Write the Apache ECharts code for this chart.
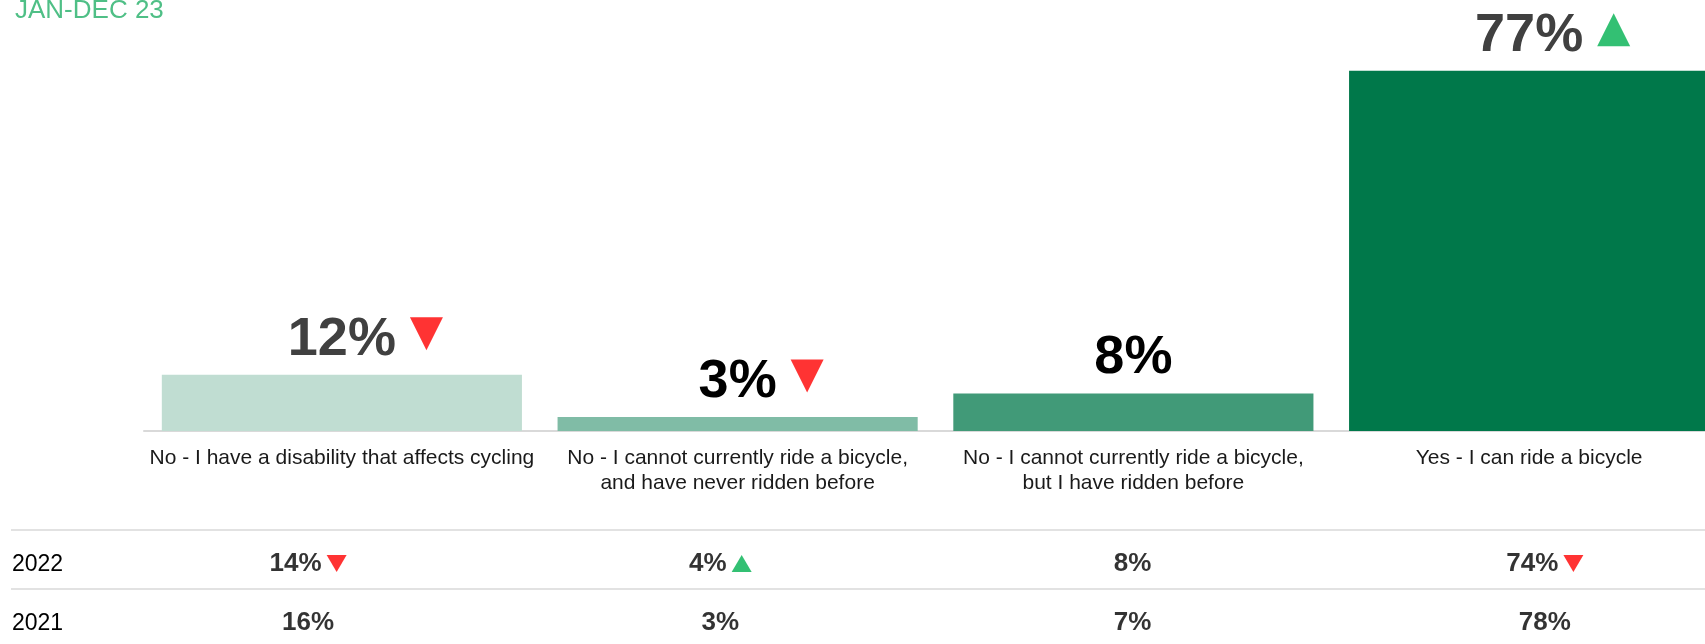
<!DOCTYPE html>
<html>
<head>
<meta charset="utf-8">
<title>Can you ride a bicycle</title>
<script src="https://cdn.jsdelivr.net/npm/echarts@6/dist/echarts.min.js"></script>
<style>
  html, body { margin: 0; padding: 0; background: #fff; }
  #chart { width: 1705px; height: 644px; }
</style>
</head>
<body>
<div id="chart"></div>
<script>
// chart data
const categories = [
    'No - I have a disability that affects cycling',
    'No - I cannot currently ride a bicycle,\nand have never ridden before',
    'No - I cannot currently ride a bicycle,\nbut I have ridden before',
    'Yes - I can ride a bicycle'
];
const values2023 = [12, 3, 8, 77];
const trend2023 = ['down', 'down', '', 'up'];

const tableYears = ['2022', '2021'];
const values2022 = [14, 4, 8, 74];
const trend2022 = ['down', 'up', '', 'down'];
const values2021 = [16, 3, 7, 78];

// styles
const barColors = ['#c0ddd2', '#80bca6', '#419a78', '#00784a'];
const labelColors = ['#404040', '#000000', '#000000', '#404040'];
const FONT = '"Liberation Sans", Arial, sans-serif';
const UP = '#00b050';
const DOWN = '#ff0000';

const measureCtx = document.createElement('canvas').getContext('2d');
function textWidth(str, size, weight) {
    measureCtx.font = `${weight || 'normal'} ${size}px ${FONT}`;
    return measureCtx.measureText(str).width;
}

// big arrows next to the 2023 labels
const bigArrows = [];
values2023.forEach((v, i) => {
    if (!trend2023[i]) return;
    const w = textWidth(v + '%', 54, 'bold');
    bigArrows.push({
        value: [i, v],
        symbolRotate: trend2023[i] === 'down' ? 180 : 0,
        symbolOffset: [w / 2 + 14 + 16.5, -41],
        itemStyle: { color: trend2023[i] === 'down' ? DOWN : UP }
    });
});

// table cells + small arrows
const cellData = [];
const cellArrows = [];
function addRow(year, vals, trends) {
    vals.forEach((v, i) => {
        const t = trends ? trends[i] : '';
        cellData.push({
            value: [i, year, v],
            label: { offset: [t ? -12.5 : 0, 4] }
        });
        if (t) {
            const w = textWidth(v + '%', 26, 'bold');
            cellArrows.push({
                value: [i, year],
                symbolRotate: t === 'down' ? 180 : 0,
                symbolOffset: [w / 2 - 12.5 + 5 + 10, 4],
                itemStyle: { color: t === 'down' ? DOWN : UP }
            });
        }
    });
}
addRow(tableYears[0], values2022, trend2022);
addRow(tableYears[1], values2021, null);

const chart = echarts.init(document.getElementById('chart'));

const option = {
    animation: false,
    title: {
        text: 'JAN-DEC 23',
        left: 15,
        top: -2,
        padding: 0,
        textStyle: { color: '#4fbf86', fontSize: 26, fontWeight: 'normal', fontFamily: FONT }
    },
    grid: [
        { left: 144, width: 1583, top: 10, height: 421, outerBoundsMode: 'none' },
        { left: 11, width: 1694, top: 530, height: 118, outerBoundsMode: 'none' },
        { left: 102, width: 1649, top: 530, height: 118, outerBoundsMode: 'none' }
    ],
    xAxis: [
        {
            type: 'category',
            gridIndex: 0,
            data: categories,
            axisLine: { lineStyle: { color: '#d9d9d9', width: 2 } },
            axisTick: { show: false },
            axisLabel: {
                interval: 0,
                margin: 15,
                fontSize: 21,
                lineHeight: 25,
                color: '#1a1a1a',
                fontFamily: FONT
            }
        },
        { type: 'value', gridIndex: 1, min: 0, max: 1, show: false },
        { type: 'category', gridIndex: 2, data: [0, 1, 2, 3], show: false }
    ],
    yAxis: [
        { type: 'value', gridIndex: 0, min: 0, max: 90, show: false },
        {
            type: 'category',
            gridIndex: 1,
            data: tableYears,
            inverse: true,
            axisLine: { show: false },
            axisTick: { show: false },
            splitLine: { show: true, interval: 0, lineStyle: { color: '#d9d9d9', width: 1.5 } },
            axisLabel: {
                inside: true,
                margin: 1,
                fontSize: 23,
                color: '#000',
                fontFamily: FONT,
                verticalAlign: 'top',
                lineHeight: 10
            }
        },
        { type: 'category', gridIndex: 2, data: tableYears, inverse: true, show: false }
    ],
    series: [
        {
            type: 'bar',
            xAxisIndex: 0,
            yAxisIndex: 0,
            barCategoryGap: '9%',
            data: values2023.map((v, i) => ({
                value: v,
                itemStyle: { color: barColors[i] },
                label: { color: labelColors[i] }
            })),
            label: {
                show: true,
                position: 'top',
                distance: 8,
                formatter: '{c}%',
                fontSize: 54,
                fontWeight: 'bold',
                fontFamily: FONT
            }
        },
        {
            type: 'scatter',
            xAxisIndex: 0,
            yAxisIndex: 0,
            symbol: 'triangle',
            symbolSize: [33, 33],
            silent: true,
            data: bigArrows
        },
        {
            type: 'scatter',
            xAxisIndex: 2,
            yAxisIndex: 2,
            symbolSize: 1,
            itemStyle: { color: 'rgba(0,0,0,0)' },
            silent: true,
            label: {
                show: true,
                position: 'inside',
                formatter: p => p.value[2] + '%',
                fontSize: 26,
                fontWeight: 'bold',
                color: '#000',
                fontFamily: FONT
            },
            data: cellData
        },
        {
            type: 'scatter',
            xAxisIndex: 2,
            yAxisIndex: 2,
            symbol: 'triangle',
            symbolSize: [20, 17],
            silent: true,
            data: cellArrows
        }
    ]
};

chart.setOption(option);
window.addEventListener('resize', () => chart.resize());
</script>
</body>
</html>
